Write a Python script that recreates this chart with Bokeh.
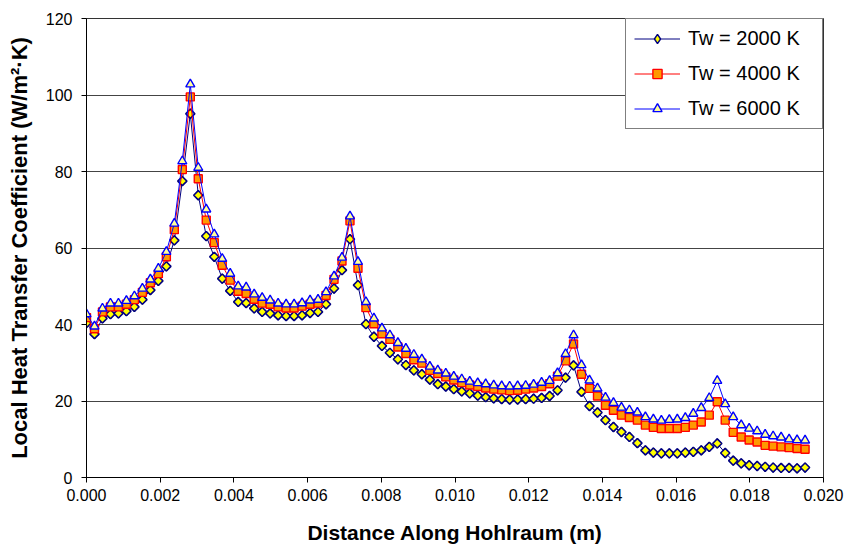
import numpy as np
from bokeh.plotting import figure
from bokeh.models import Range1d, FixedTicker, NumeralTickFormatter, Legend, LegendItem
from bokeh.embed import file_html
from bokeh.resources import INLINE

distance_m = [
    0.0, 0.000217, 0.000433, 0.00065, 0.000867, 0.001083, 0.0013, 0.001517, 0.001733, 0.00195,
    0.002167, 0.002383, 0.0026, 0.002817, 0.003033, 0.00325, 0.003467, 0.003683, 0.0039, 0.004117,
    0.004333, 0.00455, 0.004767, 0.004983, 0.0052, 0.005417, 0.005633, 0.00585, 0.006067, 0.006283,
    0.0065, 0.006717, 0.006933, 0.00715, 0.007367, 0.007583, 0.0078, 0.008017, 0.008233, 0.00845,
    0.008667, 0.008883, 0.0091, 0.009317, 0.009533, 0.00975, 0.009967, 0.010183, 0.0104, 0.010617,
    0.010833, 0.01105, 0.011267, 0.011483, 0.0117, 0.011917, 0.012133, 0.01235, 0.012567, 0.012783,
    0.013, 0.013217, 0.013433, 0.01365, 0.013867, 0.014083, 0.0143, 0.014517, 0.014733, 0.01495,
    0.015167, 0.015383, 0.0156, 0.015817, 0.016033, 0.01625, 0.016467, 0.016683, 0.0169, 0.017117,
    0.017333, 0.01755, 0.017767, 0.017983, 0.0182, 0.018417, 0.018633, 0.01885, 0.019067, 0.019283,
    0.0195,
]

h_tw2000 = [
    40.4, 37.5, 41.6, 42.7, 42.9, 43.5, 44.6, 46.5, 49.0, 51.4,
    55.2, 62.0, 77.5, 95.1, 73.8, 63.1, 57.7, 52.0, 48.8, 45.9,
    45.6, 44.2, 43.3, 42.9, 42.4, 42.2, 42.2, 42.4, 43.0, 43.3,
    45.3, 49.4, 54.2, 62.3, 50.3, 40.1, 36.8, 34.4, 32.6, 30.9,
    29.4, 28.0, 27.0, 25.6, 24.4, 23.8, 23.1, 22.5, 22.0, 21.4,
    21.0, 20.7, 20.5, 20.4, 20.4, 20.5, 20.6, 20.8, 21.3, 22.8,
    26.1, 29.3, 22.4, 18.7, 17.0, 15.0, 13.2, 11.9, 10.6, 9.0,
    7.1, 6.5, 6.3, 6.3, 6.3, 6.5, 6.7, 7.1, 8.0, 8.9,
    6.4, 4.4, 3.7, 3.2, 3.0, 2.8, 2.6, 2.5, 2.5, 2.4,
    2.6,
]

h_tw4000 = [
    41.8, 38.9, 43.3, 44.6, 44.6, 45.3, 46.5, 48.4, 50.9, 53.3,
    57.7, 64.8, 80.5, 99.5, 78.1, 67.3, 61.4, 55.5, 51.6, 48.7,
    48.1, 46.6, 45.6, 45.3, 44.6, 44.3, 44.3, 44.8, 45.3, 45.6,
    47.6, 51.8, 56.6, 67.1, 54.7, 44.4, 40.2, 37.6, 36.1, 34.1,
    32.4, 30.8, 29.9, 28.0, 27.2, 26.3, 25.5, 24.8, 24.2, 23.8,
    23.4, 23.1, 22.9, 22.7, 22.8, 23.1, 23.4, 23.8, 24.5, 26.5,
    30.5, 34.9, 27.0, 23.3, 21.3, 18.9, 17.6, 16.3, 15.7, 15.0,
    13.7, 13.1, 12.8, 12.8, 12.8, 13.1, 13.7, 14.5, 16.3, 19.8,
    15.0, 11.8, 10.6, 9.8, 9.3, 8.4, 8.2, 8.0, 7.8, 7.6,
    7.4,
]

h_tw6000 = [
    42.7, 39.5, 44.2, 45.5, 45.5, 46.2, 47.4, 49.4, 51.8, 54.6,
    59.0, 66.4, 82.7, 102.8, 81.0, 70.1, 63.6, 57.2, 53.3, 50.0,
    49.7, 47.9, 47.0, 46.3, 45.5, 45.3, 45.3, 45.6, 46.3, 46.5,
    48.5, 52.6, 57.5, 68.3, 56.4, 45.9, 41.6, 39.0, 37.2, 35.2,
    33.7, 32.1, 30.9, 29.0, 28.0, 27.2, 26.4, 25.7, 25.1, 24.7,
    24.4, 24.1, 23.9, 23.8, 23.9, 24.0, 24.3, 24.8, 25.3, 27.3,
    32.3, 37.2, 29.4, 25.4, 23.3, 20.9, 19.5, 18.3, 17.6, 17.0,
    15.8, 15.2, 14.9, 15.1, 15.2, 15.6, 16.7, 18.2, 20.8, 25.3,
    19.2, 15.8, 13.7, 12.8, 12.1, 11.2, 10.8, 10.5, 10.0, 9.8,
    9.7,
]

x_ticks = [0.0, 0.002, 0.004, 0.006, 0.008, 0.010, 0.012, 0.014, 0.016, 0.018, 0.020]
y_ticks = [0, 20, 40, 60, 80, 100, 120]
series_labels = ["Tw = 2000 K", "Tw = 4000 K", "Tw = 6000 K"]

FONT = "Liberation Sans"

p = figure(width=846, height=548, output_backend="svg", toolbar_location=None,
           x_range=Range1d(0, 0.02), y_range=Range1d(0, 120),
           min_border_left=86, min_border_right=23, min_border_top=18, min_border_bottom=71)
p.background_fill_color = "white"
p.border_fill_color = "white"
p.outline_line_color = "#333333"
p.outline_line_width = 1

p.xgrid.grid_line_color = None
p.ygrid.grid_line_color = "#444444"
p.ygrid.grid_line_width = 1

p.xaxis.ticker = FixedTicker(ticks=x_ticks)
p.yaxis.ticker = FixedTicker(ticks=y_ticks)
p.xaxis.formatter = NumeralTickFormatter(format="0.000")

for ax in (p.xaxis, p.yaxis):
    ax.axis_line_color = "black"
    ax.axis_line_width = 1
    ax.major_tick_line_color = "black"
    ax.major_tick_out = 5
    ax.major_tick_in = 0
    ax.minor_tick_line_color = None
    ax.major_label_text_font = FONT
    ax.major_label_text_font_size = "16px"
    ax.major_label_text_color = "black"
    ax.axis_label_text_font = FONT
    ax.axis_label_text_font_style = "bold"
    ax.axis_label_text_color = "black"

p.xaxis.axis_label_text_font_size = "21px"
p.yaxis.axis_label_text_font_size = "22px"
p.xaxis.axis_label = "Distance Along Hohlraum (m)"
p.yaxis.axis_label = "Local Heat Transfer Coefficient (W/m\u00b2\u00b7K)"
p.xaxis.major_label_standoff = 6
p.yaxis.major_label_standoff = 9
p.xaxis.axis_label_standoff = 17
p.yaxis.axis_label_standoff = 11

l1 = p.line(distance_m, h_tw2000, line_color="#000080", line_width=1)
# diamond glyph used for the legend swatch; covered in the plot by the rotated squares below
s1_key = p.scatter(distance_m, h_tw2000, marker="diamond", size=9,
                   fill_color="#FFFF00", line_color="#000080", line_width=1.4)
s1 = p.scatter(distance_m, h_tw2000, marker="square", angle=np.pi / 4, size=6.5,
               fill_color="#FFFF00", line_color="#000080", line_width=1.6)
l2 = p.line(distance_m, h_tw4000, line_color="#FF0000", line_width=1)
s2 = p.scatter(distance_m, h_tw4000, marker="square", size=8,
               fill_color="#FF9900", line_color="#FF0000", line_width=1.4)
l3 = p.line(distance_m, h_tw6000, line_color="#0000FF", line_width=1)
s3 = p.scatter(distance_m, h_tw6000, marker="triangle", size=9,
               fill_color="#FFFF99", line_color="#0000FF", line_width=1.4)

legend = Legend(items=[
    LegendItem(label=series_labels[0], renderers=[l1, s1_key]),
    LegendItem(label=series_labels[1], renderers=[l2, s2]),
    LegendItem(label=series_labels[2], renderers=[l3, s3]),
], location="top_right")
legend.margin = 0
legend.padding = 8
legend.spacing = 12
legend.glyph_width = 46
legend.glyph_height = 23
legend.label_height = 23
legend.label_width = 126
legend.label_standoff = 8
legend.label_text_font = FONT
legend.label_text_font_size = "20px"
legend.label_text_color = "black"
legend.border_line_color = "black"
legend.border_line_width = 1
legend.background_fill_color = "white"
legend.background_fill_alpha = 1.0
p.add_layout(legend, "center")

open("out.html", "w").write(file_html(p, INLINE))
